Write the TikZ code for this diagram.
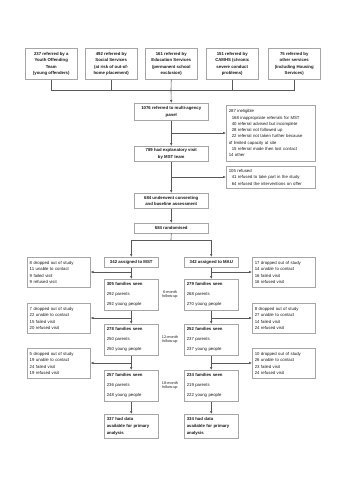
\documentclass[tikz,border=0pt]{standalone}
\usepackage{fontspec}
\setmainfont{Liberation Sans}
\usetikzlibrary{arrows.meta}
\definecolor{boxc}{HTML}{A6A6A6}
\definecolor{conn}{HTML}{595959}
\definecolor{txt}{HTML}{1A1A1A}
\newcommand\fsz{\fontsize{4.3}{6.3}\selectfont}
\newcommand\fsm{\fontsize{3.8}{4.9}\selectfont}
\begin{document}
\begin{tikzpicture}[x=1pt,y=-1pt,
 box/.style={draw=boxc, line width=0.5pt, inner xsep=2.5pt, inner ysep=0.5pt, font=\fsz, text=txt, anchor=north west},
 topbox/.style={box, minimum width=52pt, minimum height=31pt, align=center, font=\fsz\bfseries},
 midbox/.style={box, minimum width=74pt, align=center, font=\fsz\bfseries},
 sidebox/.style={box, text width=84pt, align=left},
 dropbox/.style={box, text width=58pt, minimum height=30pt, align=left, font=\fontsize{4.3}{6.5}\selectfont},
 fambox/.style={box, text width=49pt, minimum height=31pt, align=left},
 armbox/.style={box, minimum width=54pt, minimum height=10pt, font=\fsz\bfseries},
 endbox/.style={box, text width=49pt, minimum height=24pt, align=left, font=\fontsize{4.3}{6.7}\selectfont\bfseries},
 lbl/.style={font=\fsm, text=txt, align=center, inner sep=0pt},
 ln/.style={draw=conn, line width=0.6pt},
 arr/.style={ln, -{Latex[length=3pt,width=2.6pt]}},
]
\fill[white] (0,0) rectangle (339,480);
\useasboundingbox (0,0) rectangle (339,480);

% referral sources
\node[topbox] (t1) at (25,48) {237 referred by a\\Youth Offending\\Team\\(young offenders)};
\node[topbox] (t2) at (85,48) {492 referred by\\Social Services\\(at risk of out-of-\\home placement)};
\node[topbox] (t3) at (145,48) {161 referred by\\Education Services\\(permanent school\\exclusion)};
\node[topbox] (t4) at (206,48) {151 referred by\\CAMHS (chronic\\severe conduct\\problems)};
\node[topbox] (t5) at (268,48) {75 referred by\\other services\\(including Housing\\Services)};

% main column
\node[midbox, minimum height=17pt] (ref) at (134,103) {1076 referred to multi-agency\\panel};
\node[midbox, minimum height=15pt] (vis) at (134,146) {789 had explanatory visit\\by MST team};
\node[midbox, minimum height=15pt] (cons) at (134,193) {684 underwent consenting\\and baseline assessment};
\node[midbox, minimum height=10pt] (rand) at (134,223) {684 randomised};

% exclusions
\node[sidebox, minimum height=56pt] (inel) at (226,105) {287 ineligible\\
\hspace*{3pt}168 inappropriate referrals for MST\\
\hspace*{3pt}40 referral advised but incomplete\\
\hspace*{3pt}28 referral not followed up\\
\hspace*{3pt}22 referral not taken further because\\
of limited capacity at site\\
\hspace*{3pt}15 referral made then lost contact\\
14 other};
\node[sidebox, minimum height=22pt] (refu) at (226,166) {105 refused\\
\hspace*{3pt}41 refused to take part in the study\\
\hspace*{3pt}64 refused the interventions on offer};

% arms
\node[armbox] (mst) at (104,257) {342 assigned to MST};
\node[armbox] (mau) at (184,257) {342 assigned to MAU};

\node[fambox] (m1) at (104,279) {\textbf{305 families seen}\\[3.6pt]292 parents\\[3.6pt]292 young people};
\node[fambox] (m2) at (104,324) {\textbf{278 families seen}\\[3.6pt]250 parents\\[3.6pt]250 young people};
\node[fambox] (m3) at (104,370) {\textbf{257 families seen}\\[3.6pt]236 parents\\[3.6pt]248 young people};
\node[endbox] (e1) at (104,414) {337 had data\\available for primary\\analysis};

\node[fambox] (a1) at (184,279) {\textbf{279 families seen}\\[3.6pt]268 parents\\[3.6pt]270 young people};
\node[fambox] (a2) at (184,324) {\textbf{252 families seen}\\[3.6pt]237 parents\\[3.6pt]237 young people};
\node[fambox] (a3) at (184,370) {\textbf{234 families seen}\\[3.6pt]219 parents\\[3.6pt]222 young people};
\node[endbox] (e2) at (184,414) {334 had data\\available for primary\\analysis};

% losses
\node[dropbox] (d1) at (27,257) {8 dropped out of study\\11 unable to contact\\9 failed visit\\9 refused visit};
\node[dropbox] (d2) at (27,303) {7 dropped out of study\\22 unable to contact\\15 failed visit\\20 refused visit};
\node[dropbox] (d3) at (27,348) {5 dropped out of study\\19 unable to contact\\24 failed visit\\19 refused visit};
\node[dropbox] (r1) at (252,257) {17 dropped out of study\\14 unable to contact\\16 failed visit\\16 refused visit};
\node[dropbox] (r2) at (252,303) {8 dropped out of study\\27 unable to contact\\14 failed visit\\24 refused visit};
\node[dropbox] (r3) at (252,348) {10 dropped out of study\\26 unable to contact\\23 failed visit\\24 refused visit};

% follow-up labels
\node[lbl] (f6) at (170,294.5) {6-month\\follow-up};
\node[lbl] (f12) at (170,339.5) {12-month\\follow-up};
\node[lbl] (f18) at (170,385.5) {18-month\\follow-up};

% connectors: referral sources
\coordinate (j) at (171,90);
\draw[ln] (t1.south) -- (t1.south |- j) -- (t5.south |- j) -- (t5.south);
\draw[ln] (t2.south) -- (t2.south |- j);
\draw[ln] (t4.south) -- (t4.south |- j);
\draw[ln] (t3.south) -- (j);
\draw[arr] (j) -- (ref.north);

% main column connectors
\draw[arr] (ref) -- (vis);
\coordinate (b1) at (171,133);
\draw[arr] (b1) -- (b1 -| inel.west);
\draw[arr] (vis) -- (cons);
\coordinate (b2) at (171,177);
\draw[arr] (b2) -- (b2 -| refu.west);
\draw[arr] (cons) -- (rand);
\coordinate (sp) at (171,240);
\draw[ln] (rand.south) -- (sp);
\draw[arr] (sp) -| (mst.north);
\draw[arr] (sp) -| (mau.north);

% MST column
\draw[arr] (mst) -- (m1);
\draw[arr] (m1) -- (m2);
\draw[arr] (m2) -- (m3);
\draw[arr] (m3) -- (e1);
\coordinate (c1) at (131,272);
\coordinate (c2) at (131,318);
\coordinate (c3) at (131,363);
\draw[arr] (c1) -- (c1 -| d1.east);
\draw[arr] (c2) -- (c2 -| d2.east);
\draw[arr] (c3) -- (c3 -| d3.east);

% MAU column
\draw[arr] (mau) -- (a1);
\draw[arr] (a1) -- (a2);
\draw[arr] (a2) -- (a3);
\draw[arr] (a3) -- (e2);
\coordinate (k1) at (211,272);
\coordinate (k2) at (211,318);
\coordinate (k3) at (211,363);
\draw[arr] (k1) -- (k1 -| r1.west);
\draw[arr] (k2) -- (k2 -| r2.west);
\draw[arr] (k3) -- (k3 -| r3.west);
\end{tikzpicture}
\end{document}
